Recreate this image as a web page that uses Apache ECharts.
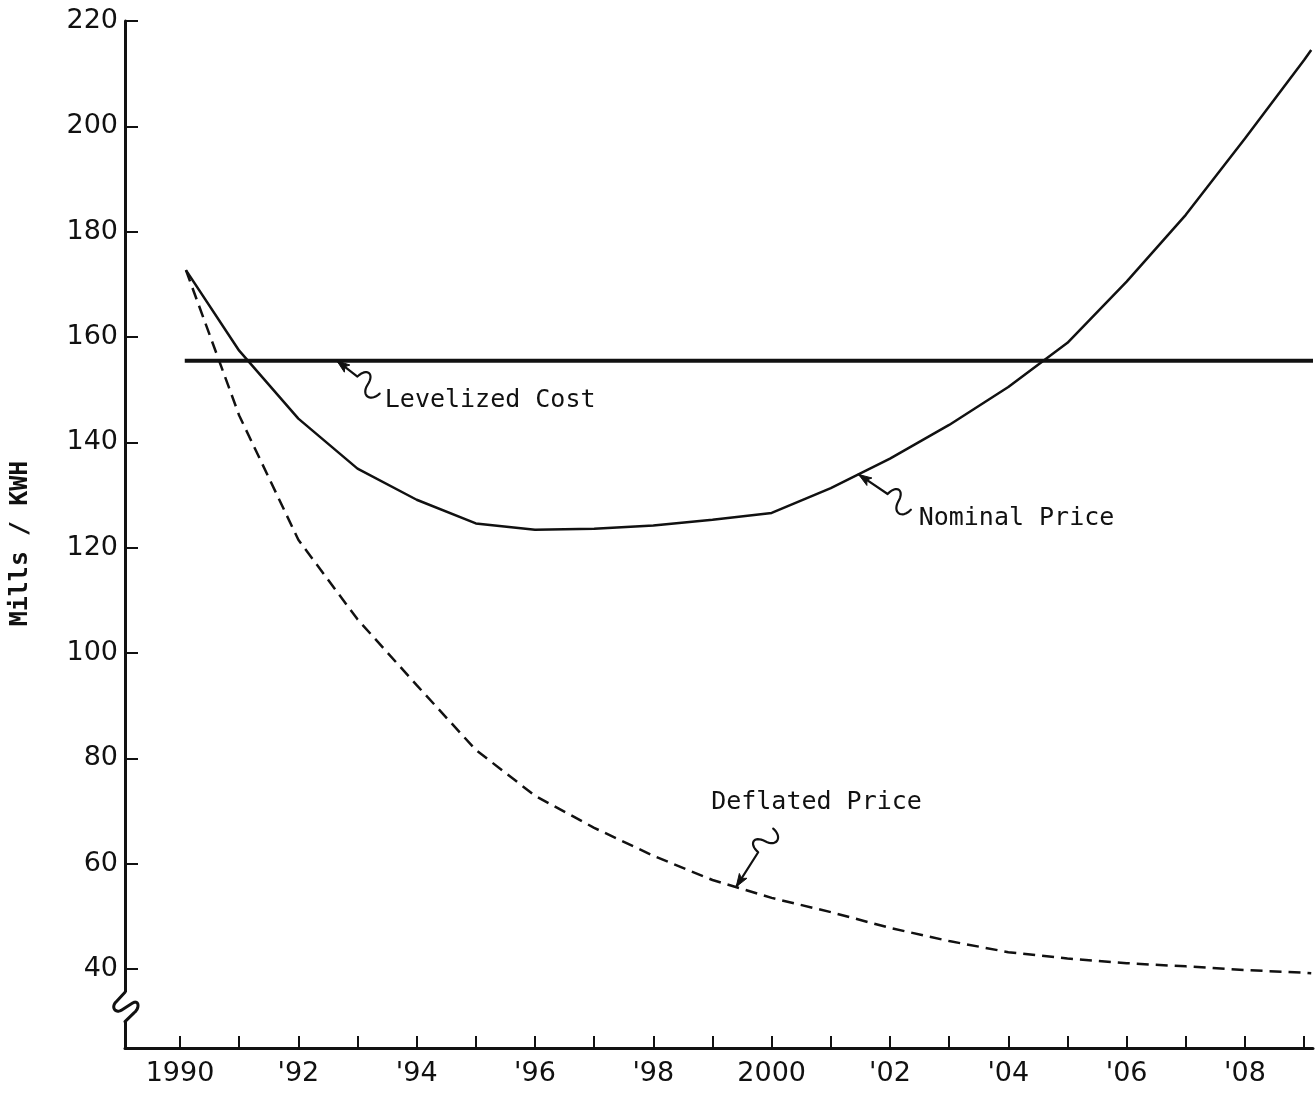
<!DOCTYPE html>
<html>
<head>
<meta charset="utf-8">
<title>Mills / KWH</title>
<script src="https://cdn.jsdelivr.net/npm/echarts@6/dist/echarts.min.js"></script>
<style>
  html, body { margin: 0; padding: 0; background: #fff; }
  #chart { width: 1316px; height: 1095px; }
</style>
</head>
<body>
<div id="chart"></div>
<script>
// Price paths (mills per kWh) by year
const years = [1990.1, 1991, 1992, 1993, 1994, 1995, 1996, 1997, 1998, 1999, 2000,
               2001, 2002, 2003, 2004, 2005, 2006, 2007, 2008, 2009, 2009.12];
const nominalPrice = [172.7, 157.4, 144.5, 135.0, 129.1, 124.6, 123.4, 123.6, 124.2, 125.3, 126.6,
                      131.3, 136.9, 143.3, 150.5, 158.9, 170.5, 183.2, 197.7, 212.6, 214.5];
const deflatedPrice = [172.7, 145.1, 121.5, 106.4, 93.9, 81.6, 72.9, 66.8, 61.5, 56.9, 53.5,
                       50.8, 47.8, 45.3, 43.2, 42.0, 41.1, 40.5, 39.8, 39.3, 39.2];
const levelizedYears = [1990.08, 2009.15];
const levelizedCost = [155.5, 155.5];

// Axis ticks and labels
const yearTicks = [1990, 1991, 1992, 1993, 1994, 1995, 1996, 1997, 1998, 1999, 2000,
                   2001, 2002, 2003, 2004, 2005, 2006, 2007, 2008, 2009];
const yearLabels = [1990, 1992, 1994, 1996, 1998, 2000, 2002, 2004, 2006, 2008];
const millsTicks = [40, 60, 80, 100, 120, 140, 160, 180, 200, 220];

// Callouts: the point on a curve the arrow touches
const callouts = [
  { text: 'Levelized Cost', at: [1992.65, 155.5] },
  { text: 'Nominal Price',  at: [2001.47, 133.9] },
  { text: 'Deflated Price', at: [1999.4, 55.6] }
];
// Arrow direction (degrees, screen space), length and text offset from the arrow tip
const calloutLayout = [
  { angle: 37.5, len: 54, dx: 48, dy: 40 },
  { angle: 34, len: 63, dx: 60, dy: 44 },
  { angle: -57.5, len: 69, dx: -25, dy: -84 }
];

const INK = '#111';
const pair = (xs, ys) => xs.map((x, i) => [x, ys[i]]);

const chart = echarts.init(document.getElementById('chart'), null, { renderer: 'canvas' });

chart.setOption({
  animation: false,
  backgroundColor: '#fff',
  grid: { left: 123, right: 3, top: 21, bottom: 47 },
  xAxis: {
    type: 'value',
    min: 1989.07,
    max: 2009.15,
    splitLine: { show: false },
    axisLine: { show: true, lineStyle: { color: INK, width: 3 } },
    axisTick: { show: true, inside: true, length: 12, customValues: yearTicks,
                lineStyle: { color: INK, width: 2 } },
    axisLabel: {
      customValues: yearLabels,
      margin: 12,
      color: INK,
      fontFamily: 'DejaVu Sans',
      fontSize: 27,
      formatter: v => (v % 10 === 0 ? String(v) : "'" + String(v).slice(2))
    }
  },
  yAxis: {
    type: 'value',
    min: 25,
    max: 220,
    name: 'Mills / KWH',
    nameLocation: 'middle',
    nameRotate: 90,
    nameGap: 92,
    nameTextStyle: { color: INK, fontFamily: 'DejaVu Sans Mono', fontSize: 25,
                     fontWeight: 'bold', padding: [0, 18, 0, 0] },
    splitLine: { show: false },
    axisLine: { show: true, lineStyle: { color: INK, width: 3 } },
    axisTick: { show: true, inside: true, length: 13, customValues: millsTicks,
                lineStyle: { color: INK, width: 2 } },
    axisLabel: {
      customValues: millsTicks,
      margin: 7,
      color: INK,
      fontFamily: 'DejaVu Sans',
      fontSize: 27
    }
  },
  series: [
    {
      name: 'Levelized Cost',
      type: 'line',
      data: pair(levelizedYears, levelizedCost),
      showSymbol: false,
      lineStyle: { color: INK, width: 4 }
    },
    {
      name: 'Nominal Price',
      type: 'line',
      data: pair(years, nominalPrice),
      showSymbol: false,
      lineStyle: { color: INK, width: 2.5 }
    },
    {
      name: 'Deflated Price',
      type: 'line',
      data: pair(years, deflatedPrice),
      showSymbol: false,
      lineStyle: { color: INK, width: 2.5, type: [12, 7] }
    }
  ]
});

// Flatten a list of line / cubic segments into polyline points
function tracePath(start, segs) {
  const pts = [start.slice()];
  let cur = start;
  segs.forEach(sg => {
    if (sg.length === 1) {
      pts.push(sg[0]); cur = sg[0];
    } else {
      const [c1, c2, e] = sg;
      for (let k = 1; k <= 16; k++) {
        const t = k / 16, u = 1 - t;
        pts.push([
          u * u * u * cur[0] + 3 * u * u * t * c1[0] + 3 * u * t * t * c2[0] + t * t * t * e[0],
          u * u * u * cur[1] + 3 * u * u * t * c1[1] + 3 * u * t * t * c2[1] + t * t * t * e[1]
        ]);
      }
      cur = e;
    }
  });
  return pts;
}

// Squiggle arrow: tip at the curve, shaft then an S-bend, rotated to the given angle
function squiggle(tip, angleDeg, len) {
  const a = angleDeg * Math.PI / 180, c = Math.cos(a), s = Math.sin(a);
  const T = p => [tip[0] + p[0] * c - p[1] * s, tip[1] + p[0] * s + p[1] * c];
  const sh = len - 28;
  const local = tracePath([0, 0], [
    [[sh, 0]],
    [[sh + 2, -13], [sh + 12, -13], [sh + 13, 0]],
    [[sh + 14, 13], [sh + 26, 13], [sh + 28, 0]]
  ]);
  const head = [[0, 0], [13, -4.5], [10, 0], [13, 4.5]];
  return { line: local.map(T), head: head.map(T) };
}

function buildGraphics() {
  const px = v => chart.convertToPixel({ gridIndex: 0 }, v);
  const els = [];

  // Broken y axis between the 40 tick and the x axis
  const top = px([1989.07, 35.6]);
  const bot = px([1989.07, 30.0]);
  const ax = top[0], y0 = top[1], y1 = bot[1];
  const h = y1 - y0;
  els.push({ type: 'rect', z: 100,
             shape: { x: ax - 6, y: y0, width: 12, height: h },
             style: { fill: '#fff' } });
  const brk = tracePath([ax, y0], [
    [[ax - 9, y0 + h * 0.33]],
    [[ax - 14, y0 + h * 0.5], [ax - 10, y0 + h * 0.72], [ax - 4, y0 + h * 0.62]],
    [[ax + 8, y0 + h * 0.36]],
    [[ax + 14, y0 + h * 0.25], [ax + 15, y0 + h * 0.55], [ax + 9, y0 + h * 0.7]],
    [[ax, y1]]
  ]);
  els.push({ type: 'polyline', z: 101, shape: { points: brk },
             style: { fill: null, stroke: INK, lineWidth: 3, lineJoin: 'round', lineCap: 'round' } });

  callouts.forEach((co, i) => {
    const lay = calloutLayout[i];
    const tip = px(co.at);
    const sq = squiggle(tip, lay.angle, lay.len);
    els.push({ type: 'polyline', z: 100, shape: { points: sq.line },
               style: { fill: null, stroke: INK, lineWidth: 2.2, lineCap: 'round', lineJoin: 'round' } });
    els.push({ type: 'polygon', z: 100, shape: { points: sq.head },
               style: { fill: INK, stroke: INK, lineWidth: 1 } });
    els.push({ type: 'text', z: 100, x: tip[0] + lay.dx, y: tip[1] + lay.dy,
               style: { text: co.text, fill: INK, font: '25px "DejaVu Sans Mono"',
                        align: 'left', verticalAlign: 'middle',
                        textAlign: 'left', textVerticalAlign: 'middle' } });
  });
  return els;
}

chart.setOption({ graphic: { elements: buildGraphics() } });
</script>
</body>
</html>
